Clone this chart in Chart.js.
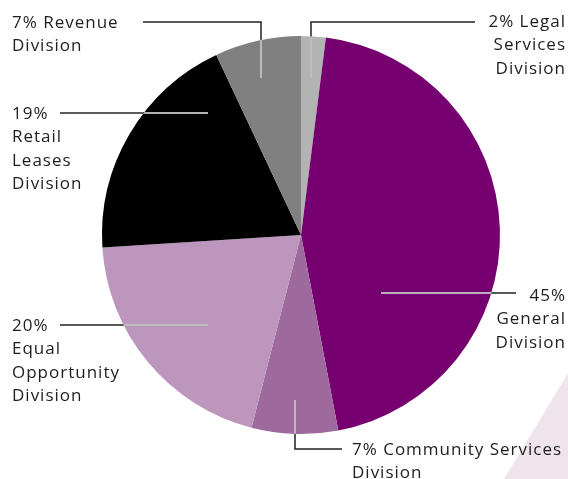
<!DOCTYPE html>
<html>
<head>
<meta charset="utf-8">
<script src="https://cdn.jsdelivr.net/npm/chart.js@4"></script>
<style>
  html, body { margin: 0; padding: 0; background: #fff; }
  #wrap { width: 568px; height: 479px; }
</style>
</head>
<body>
<div id="wrap"><canvas id="pieChart" width="568" height="479"></canvas></div>
<script>
// slice order: clockwise from 12 o'clock
const divisions = ['Legal Services Division', 'General Division', 'Community Services Division',
                   'Equal Opportunity Division', 'Retail Leases Division', 'Revenue Division'];
const shares = [2, 45, 7, 20, 19, 7];
const sliceColors = ['#b3b3b3', '#770070', '#9e6a9e', '#bc96bc', '#000000', '#808080'];

// label text lines, per slice
const labelLines = [
    ['2% Legal', 'Services', 'Division'],
    ['45%', 'General', 'Division'],
    ['7% Community Services', 'Division'],
    ['20%', 'Equal', 'Opportunity', 'Division'],
    ['19%', 'Retail', 'Leases', 'Division'],
    ['7% Revenue', 'Division']
];

// where each label sits and how its leader line runs (first point is inside the slice)
const labelLayout = [
    { x: 566, y: 22, align: 'right', leader: [[311, 78], [311, 22], [475, 22]] },
    { x: 566, y: 296, align: 'right', leader: [[381, 293], [516, 293]] },
    { x: 352, y: 450, align: 'left', leader: [[295, 400], [295, 449], [342, 449]] },
    { x: 12, y: 326, align: 'left', leader: [[208, 325], [60, 325]] },
    { x: 12, y: 114, align: 'left', leader: [[208, 113], [60, 113]] },
    { x: 12, y: 23, align: 'left', leader: [[261, 78], [261, 22], [143, 22]] }
];

const lineHeight = 23.5;

const backdrop = {
    id: 'backdrop',
    beforeDraw(chart) {
        const c = chart.ctx;
        c.save();
        c.fillStyle = '#efe4ec';
        c.beginPath();
        c.moveTo(568, 373);
        c.lineTo(568, 479);
        c.lineTo(504, 479);
        c.closePath();
        c.fill();
        c.restore();
    }
};

const leaderLabels = {
    id: 'leaderLabels',
    afterDatasetsDraw(chart) {
        const c = chart.ctx;
        const arc = chart.getDatasetMeta(0).data[0];
        const { x: cx, y: cy, outerRadius } = arc.getProps(['x', 'y', 'outerRadius'], true);

        labelLayout.forEach((lay, i) => {
            const pts = lay.leader;
            const path = () => {
                c.beginPath();
                c.moveTo(pts[0][0], pts[0][1]);
                for (let k = 1; k < pts.length; k++) c.lineTo(pts[k][0], pts[k][1]);
            };
            c.save();
            c.lineWidth = 1.5;
            c.strokeStyle = '#222';
            path();
            c.stroke();
            // part of the leader over the pie is drawn light
            c.beginPath();
            c.arc(cx, cy, outerRadius, 0, Math.PI * 2);
            c.clip();
            c.strokeStyle = '#e6e6e6';
            path();
            c.stroke();
            c.restore();

            c.save();
            c.fillStyle = '#1e1e1e';
            c.font = '17px "Open Sans"';
            c.letterSpacing = '1px';
            c.textAlign = lay.align;
            c.textBaseline = 'middle';
            labelLines[i].forEach((t, j) => c.fillText(t, lay.x, lay.y + j * lineHeight));
            c.restore();
        });
    }
};

new Chart(document.getElementById('pieChart'), {
    type: 'pie',
    data: {
        labels: divisions,
        datasets: [{
            data: shares,
            backgroundColor: sliceColors,
            borderWidth: 0
        }]
    },
    options: {
        responsive: false,
        animation: false,
        layout: { padding: { top: 36, bottom: 45, left: 60, right: 26 } },
        plugins: {
            legend: { display: false },
            tooltip: { enabled: false }
        }
    },
    plugins: [backdrop, leaderLabels]
});
</script>
</body>
</html>
